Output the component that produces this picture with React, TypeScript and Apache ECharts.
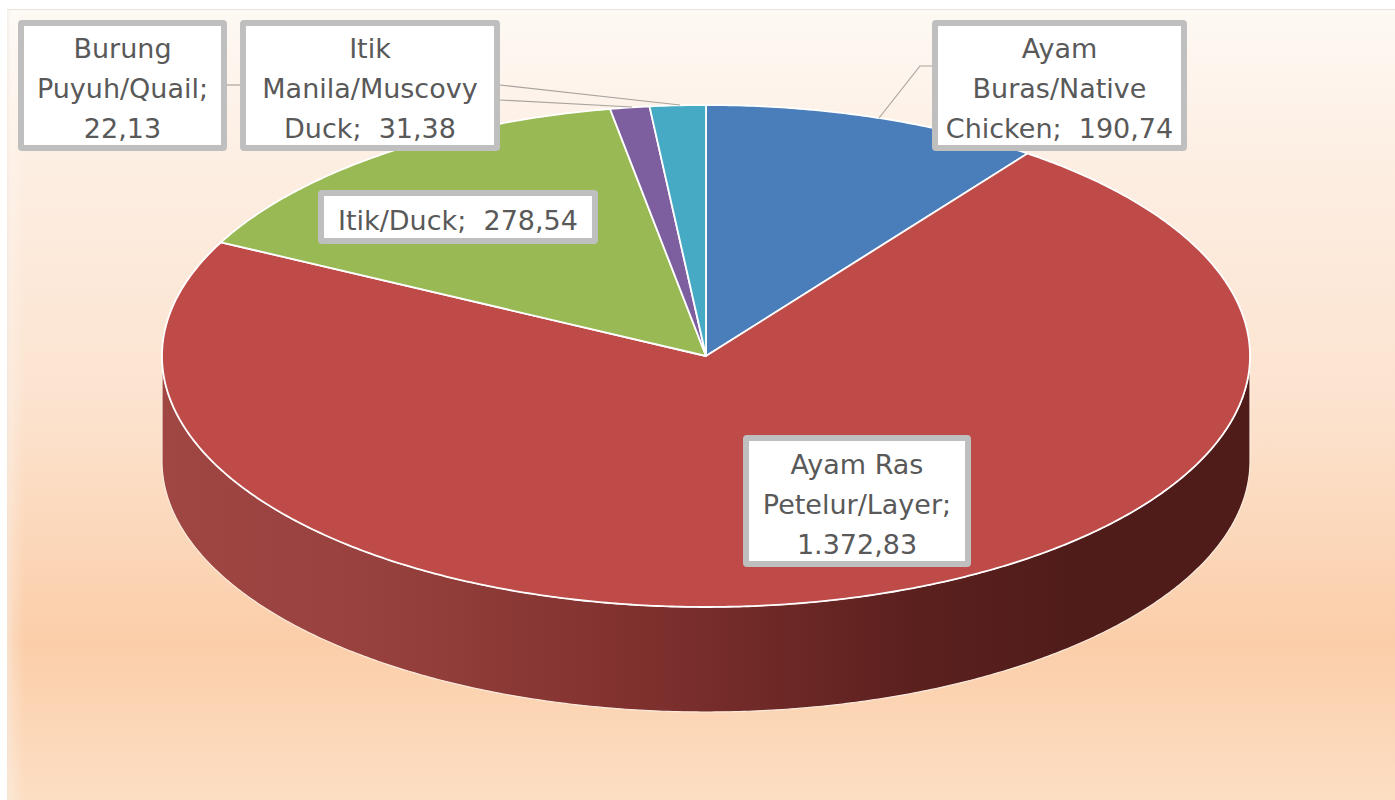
import React, { useEffect, useRef } from "react";
import * as echarts from "echarts";

const categories = ["Ayam Buras/Native Chicken", "Ayam Ras Petelur/Layer", "Itik/Duck", "Burung Puyuh/Quail", "Itik Manila/Muscovy Duck"];
const values = [190.74, 1372.83, 278.54, 22.13, 31.38];
const sliceColors = ["#4A7EBB", "#BE4B48", "#98B954", "#7D5FA0", "#46AAC5"];
const labelTexts = [
  "Ayam\nBuras/Native\nChicken;  190,74",
  "Ayam Ras\nPetelur/Layer;\n1.372,83",
  "Itik/Duck;  278,54",
  "Burung\nPuyuh/Quail;\n22,13",
  "Itik\nManila/Muscovy\nDuck;  31,38",
];
const labelBoxes = [
  [932, 20, 255, 131],
  [743, 435, 228, 132],
  [318, 190, 280, 54],
  [18, 20, 209, 131],
  [240, 20, 260, 131],
];
const leaderLines = [
  [[932, 66], [920, 66], [879, 118]],
  [[227, 85], [240, 85]],
  [[500, 100], [632, 107]],
  [[500, 85], [680, 105]],
];

const CX = 706, CY = 356, RX = 544, RY = 251, DEPTH = 105;
const TAU = Math.PI * 2;
const total = values.reduce((a, b) => a + b, 0);
const pt = (a: number, dy = 0) => [CX + RX * Math.sin(a), CY - RY * Math.cos(a) + dy];

function arcPoints(a0: number, a1: number, dy = 0) {
  const n = Math.max(2, Math.ceil(((a1 - a0) / TAU) * 720));
  const out: number[][] = [];
  for (let i = 0; i <= n; i++) out.push(pt(a0 + ((a1 - a0) * i) / n, dy));
  return out;
}

const wallFill = () =>
  new echarts.graphic.LinearGradient(
    CX - RX, 0, CX + RX, 0,
    [
      { offset: 0, color: "#A04643" },
      { offset: 0.2, color: "#97413E" },
      { offset: 0.45, color: "#7E302D" },
      { offset: 0.7, color: "#5A201E" },
      { offset: 0.85, color: "#4F1C1A" },
      { offset: 1, color: "#4F1C1A" },
    ],
    true as any
  );

function renderSlice(params: any, api: any) {
  const i = params.dataIndex;
  let before = 0;
  for (let k = 0; k < i; k++) before += values[k];
  const a0 = (before / total) * TAU;
  const a1 = ((before + api.value(0)) / total) * TAU;
  const children: any[] = [];
  const w0 = Math.max(a0, Math.PI / 2);
  const w1 = Math.min(a1, (Math.PI * 3) / 2);
  if (w1 > w0) {
    const top = arcPoints(w0, w1);
    const bottom = arcPoints(w0, w1, DEPTH).reverse();
    children.push({
      type: "polygon",
      shape: { points: top.concat(bottom) },
      style: { fill: wallFill(), stroke: "#FBEBDD", lineWidth: 1.2 },
    });
  }
  children.push({
    type: "polygon",
    shape: { points: [[CX, CY], ...arcPoints(a0, a1)] },
    style: { fill: sliceColors[i], stroke: "#FFFFFF", lineWidth: 1.8, lineJoin: "round" },
  });
  return { type: "group", children };
}

export default function App() {
  const ref = useRef<HTMLDivElement>(null);
  useEffect(() => {
    document.body.style.margin = "0";
    const chart = echarts.init(ref.current!, null, { renderer: "svg" });
    const graphics: any[] = [
      {
        type: "rect",
        z: -10,
        shape: { x: 7, y: 9, width: 1388, height: 791 },
        style: {
          fill: new echarts.graphic.LinearGradient(0, 0, 0, 1, [
            { offset: 0, color: "#FEF9F4" },
            { offset: 0.2, color: "#FDEEE2" },
            { offset: 0.5, color: "#FCE3CF" },
            { offset: 0.8, color: "#FBCEA9" },
            { offset: 1, color: "#FCDEC3" },
          ]),
        },
      },
      {
        type: "rect",
        z: -9,
        shape: { x: 7, y: 9, width: 18, height: 791 },
        style: {
          fill: new echarts.graphic.LinearGradient(0, 0, 1, 0, [
            { offset: 0, color: "rgba(240,232,225,0.6)" },
            { offset: 0.3, color: "rgba(255,255,255,0.2)" },
            { offset: 1, color: "rgba(255,255,255,0)" },
          ]),
        },
      },
      { type: "line", z: -8, shape: { x1: 7, y1: 9.5, x2: 1395, y2: 9.5 }, style: { stroke: "#E9E4DE", lineWidth: 1 } },
    ];
    leaderLines.forEach((points) => {
      graphics.push({
        type: "polyline",
        z: 50,
        shape: { points },
        style: { stroke: "#A9A4A0", lineWidth: 1.2, fill: "none" },
      });
    });
    labelBoxes.forEach(([x, y, w, h], i) => {
      graphics.push({
        type: "rect",
        z: 60,
        shape: { x: x + 3, y: y + 3, width: w - 6, height: h - 6, r: 1 },
        style: { fill: "#FFFFFF", stroke: "#BFBFBF", lineWidth: 6 },
      });
      graphics.push({
        type: "text",
        z: 61,
        x: x + w / 2,
        y: y + h / 2 + 3,
        style: {
          text: labelTexts[i],
          x: 0,
          y: 0,
          align: "center",
          verticalAlign: "middle",
          fill: "#595959",
          font: '27px "DejaVu Sans"',
          lineHeight: 40,
        },
      });
    });
    chart.setOption({
      animation: false,
      backgroundColor: "#FFFFFF",
      graphic: { elements: graphics },
      xAxis: { show: false, type: "value", min: 0, max: 1 },
      yAxis: { show: false, type: "value", min: 0, max: 1 },
      grid: { left: 0, right: 0, top: 0, bottom: 0 },
      series: [
        {
          type: "custom",
          name: "Produksi",
          coordinateSystem: "none",
          silent: true,
          renderItem: renderSlice,
          data: values.map((v, i) => ({ name: categories[i], value: [v] })),
        },
      ],
    });
    return () => chart.dispose();
  }, []);
  return <div ref={ref} style={{ position: "fixed", left: 0, top: 0, width: 1395, height: 800 }} />;
}
